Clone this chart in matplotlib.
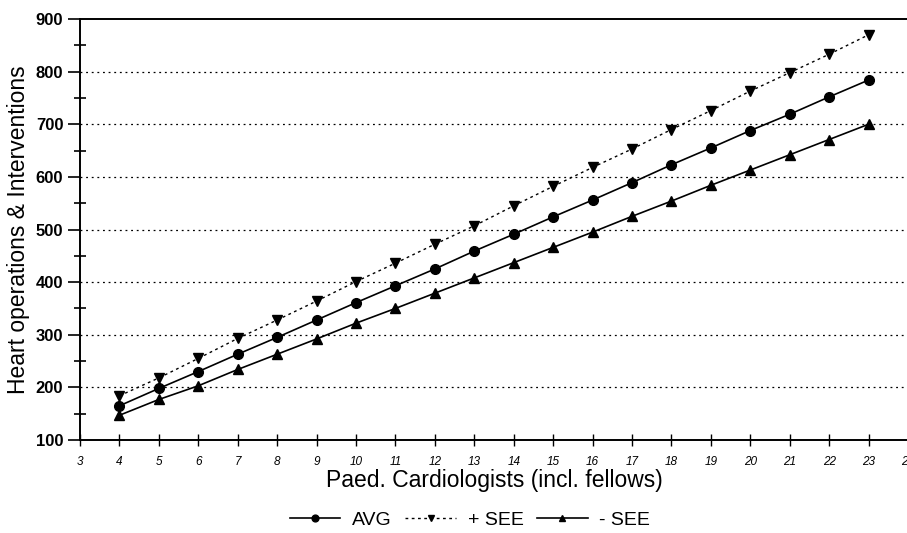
import matplotlib
matplotlib.use("Agg")
import matplotlib.pyplot as plt
from matplotlib.ticker import MultipleLocator

# ---------- Datos ----------
cardiologos = [4, 5, 6, 7, 8, 9, 10, 11, 12, 13, 14, 15, 16, 17, 18, 19, 20, 21, 22, 23]
avg = [165, 198, 230, 263, 295, 328, 361, 393, 425, 459,
       491, 524, 556, 589, 623, 655, 688, 719, 752, 784]
mas_see = [184, 218, 255, 293, 328, 364, 401, 436, 472, 507,
           545, 582, 618, 653, 690, 726, 763, 798, 833, 870]
menos_see = [147, 177, 203, 234, 263, 292, 322, 350, 379, 408,
             437, 466, 495, 525, 554, 584, 613, 642, 671, 700]
x_ticks = list(range(3, 25))
y_ticks = list(range(100, 1000, 100))

plt.rcParams['font.family'] = ['Liberation Sans', 'DejaVu Sans']

W, H = 907, 533
fig = plt.figure(figsize=(W / 100, H / 100), dpi=100)
ax = fig.add_axes([80 / W, 1 - 440 / H, 828 / W, 421 / H])

ax.plot(cardiologos, avg, color="black", lw=1.2, marker="o", ms=7, label="AVG")
ax.plot(cardiologos, mas_see, color="black", lw=1.0, ls=(0, (2, 2.5)), marker="v", ms=7, label="+ SEE")
ax.plot(cardiologos, menos_see, color="black", lw=1.2, marker="^", ms=7, label="- SEE")

ax.set_xlim(3, 24)
ax.set_ylim(100, 900)
ax.set_xticks(x_ticks)
ax.set_yticks(y_ticks)
ax.yaxis.set_minor_locator(MultipleLocator(50))

# rejilla punteada en y
for v in y_ticks[1:-1]:
    ax.axhline(v, color="black", lw=0.9, ls=(0, (1.5, 3)), zorder=0)

for s in ["left", "bottom", "top"]:
    ax.spines[s].set_linewidth(1.4)
ax.spines["right"].set_visible(False)

ax.tick_params(axis="y", which="major", direction="out", length=9, width=1.2, labelsize=12, pad=3)
ax.tick_params(axis="y", which="minor", direction="inout", length=9, width=1.2)
ax.tick_params(axis="x", which="major", direction="inout", length=9, width=1.0, labelsize=8.5, pad=7)
for t in ax.get_yticklabels():
    t.set_fontweight("bold")
for t in ax.get_xticklabels():
    t.set_fontstyle("italic")

ax.set_xlabel("Paed. Cardiologists (incl. fellows)", fontsize=16.5, labelpad=1)
ax.set_ylabel("Heart operations & Interventions", fontsize=16.5, labelpad=4)

ax.legend(loc="center", bbox_to_anchor=(0.471, -0.19), ncol=3, frameon=False,
          fontsize=14, handlelength=2.6, columnspacing=0.7, handletextpad=0.6, markerscale=0.7)

fig.savefig("out.png", dpi=100)
